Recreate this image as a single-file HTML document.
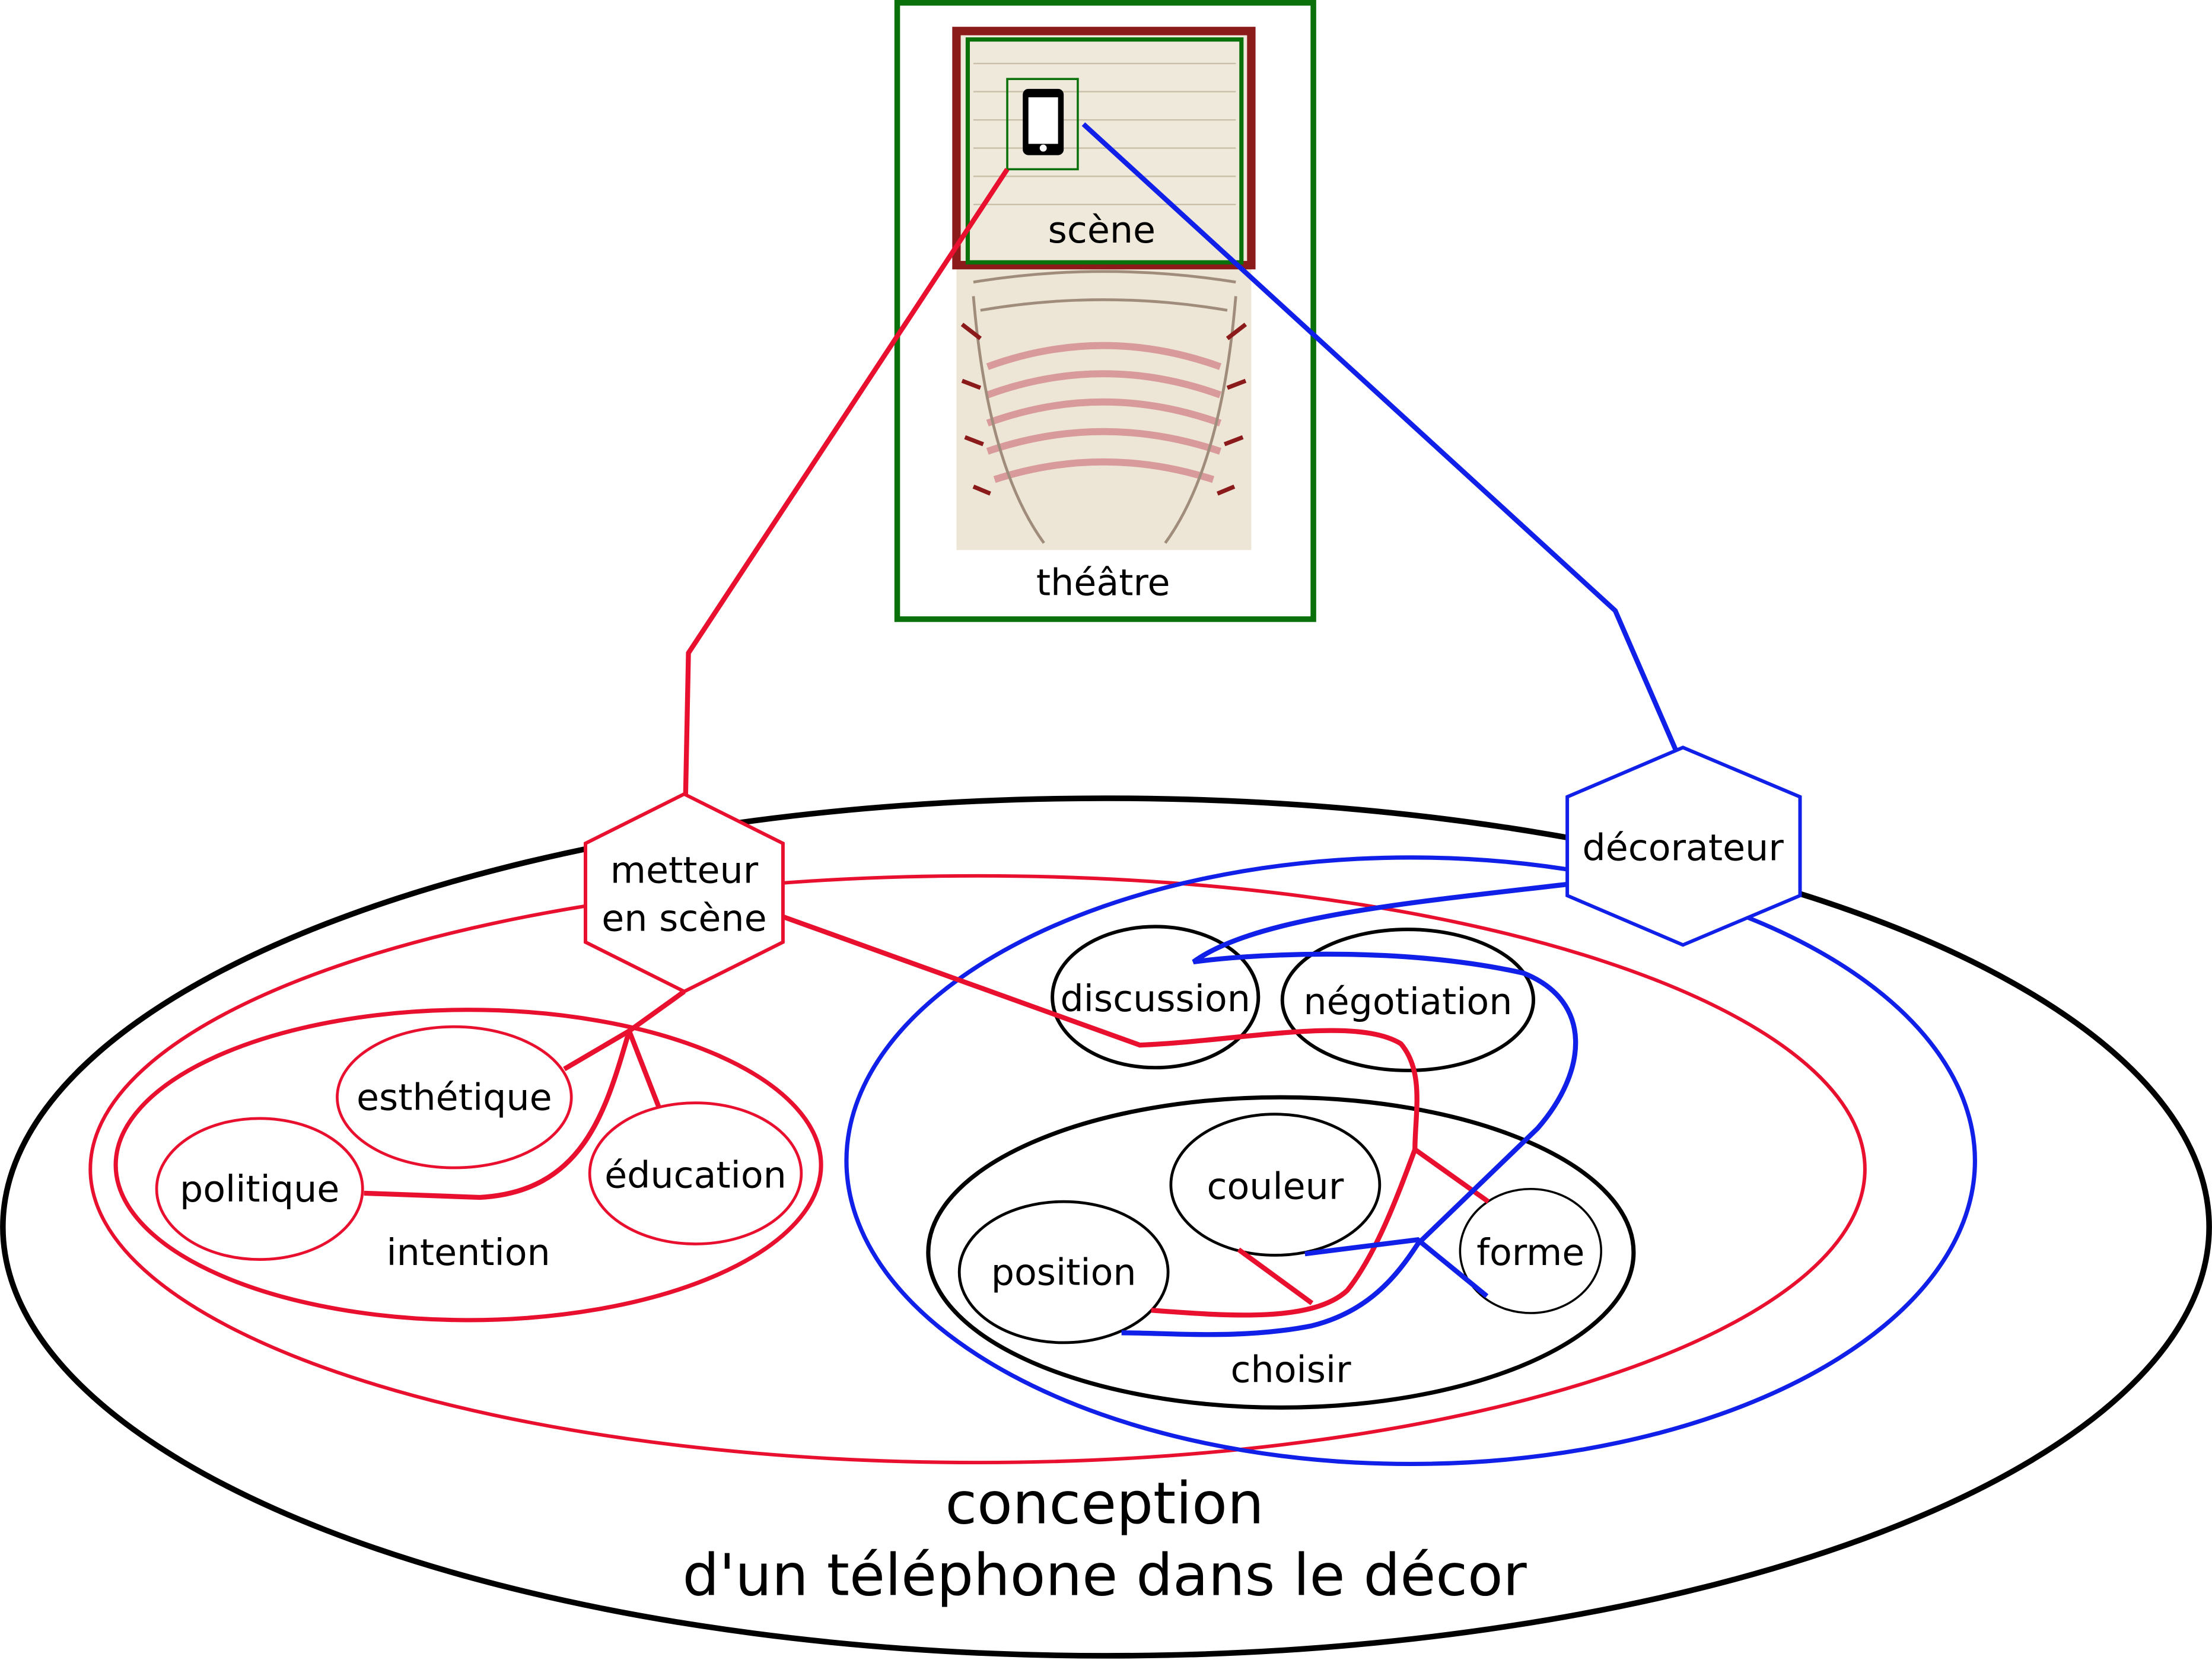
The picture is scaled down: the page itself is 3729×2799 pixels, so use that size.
<!DOCTYPE html>
<html><head><meta charset="utf-8"><style>
html,body{margin:0;padding:0;background:#fff}
svg{display:block}
text{font-family:"DejaVu Sans","Liberation Sans",sans-serif;fill:#000;text-anchor:middle}
</style></head><body>
<svg width="3729" height="2799" viewBox="0 0 1568 1177" xmlns="http://www.w3.org/2000/svg">
<rect width="1568" height="1177" fill="#fff"/>
<ellipse cx="784" cy="870" rx="782" ry="304" fill="none" stroke="#000" stroke-width="4"/>
<ellipse cx="693" cy="829" rx="629" ry="208" fill="none" stroke="#e8102e" stroke-width="2.5"/>
<ellipse cx="1000" cy="823" rx="400" ry="215" fill="none" stroke="#1020e8" stroke-width="3"/>
<ellipse cx="332" cy="826" rx="250" ry="110" fill="none" stroke="#e8102e" stroke-width="3"/>
<ellipse cx="322" cy="778" rx="83" ry="50" fill="#fff" stroke="#e8102e" stroke-width="2"/>
<ellipse cx="184" cy="843" rx="73" ry="50" fill="#fff" stroke="#e8102e" stroke-width="2"/>
<ellipse cx="493" cy="832" rx="75" ry="50" fill="#fff" stroke="#e8102e" stroke-width="2"/>
<text x="322" y="787" font-size="26">esthétique</text>
<text x="184" y="852" font-size="26">politique</text>
<text x="493" y="842" font-size="26">éducation</text>
<text x="332" y="897" font-size="26">intention</text>
<ellipse cx="819" cy="707" rx="73" ry="50" fill="#fff" stroke="#000" stroke-width="2.5"/>
<ellipse cx="998" cy="709" rx="89" ry="50" fill="#fff" stroke="#000" stroke-width="2.5"/>
<ellipse cx="908" cy="888" rx="250" ry="110" fill="none" stroke="#000" stroke-width="3"/>
<ellipse cx="904" cy="840" rx="74" ry="50" fill="#fff" stroke="#000" stroke-width="2"/>
<ellipse cx="754" cy="902" rx="74" ry="50" fill="#fff" stroke="#000" stroke-width="2"/>
<ellipse cx="1085" cy="887" rx="50" ry="44" fill="#fff" stroke="#000" stroke-width="1.5"/>
<text x="819" y="717" font-size="26">discussion</text>
<text x="998" y="719" font-size="26">négotiation</text>
<text x="904" y="850" font-size="26">couleur</text>
<text x="754" y="911" font-size="26">position</text>
<text x="1085" y="897" font-size="26">forme</text>
<text x="915" y="980" font-size="26">choisir</text>
<g fill="none" stroke="#e8102e" stroke-width="3.5">
<path d="M485 703 L446 731 L400 758 M446 731 L467 785"/>
<path d="M446 731 C430 785 415 845 340 849 L258 846"/>
<path d="M555 650 L808 741 C880 738 960 720 993 740 C1010 760 1003 790 1003 815 L1055 852"/>
<path d="M1003 815 C990 850 975 890 955 915 C930 938 870 933 816 929"/>
<path d="M878 886 L930 924"/>
</g>
<g fill="none" stroke="#1020e8" stroke-width="3.5">
<path d="M1111 627 C1000 640 890 650 846 682 C900 675 1000 672 1080 690 C1130 710 1125 760 1090 800 L1005 882 C990 905 970 930 930 940 C880 950 830 945 795 945"/>
<path d="M925 889 L1005 879 L1054 919"/>
</g>
<polygon points="485,563 555,598 555,668 485,703 415,668 415,598" fill="#fff" stroke="#e8102e" stroke-width="2.5"/>
<text x="485" y="626" font-size="26">metteur</text>
<text x="485" y="660" font-size="26">en scène</text>
<polygon points="1193,530 1276,565 1276,635 1193,670 1111,635 1111,565" fill="#fff" stroke="#1020e8" stroke-width="2.5"/>
<text x="1193" y="610" font-size="26">décorateur</text>
<!-- theatre -->
<rect x="636" y="2" width="295" height="437" fill="#fff" stroke="#0a700a" stroke-width="4"/>
<rect x="678" y="22" width="209" height="368" fill="#ede6d6"/>
<rect x="678" y="22" width="209" height="166" fill="#efe9dc" stroke="#8b1a1a" stroke-width="6"/>
<g stroke="#c9bfa8" stroke-width="1">
<line x1="690" y1="45" x2="876" y2="45"/><line x1="690" y1="65" x2="876" y2="65"/><line x1="690" y1="85" x2="876" y2="85"/><line x1="690" y1="105" x2="876" y2="105"/><line x1="690" y1="125" x2="876" y2="125"/><line x1="690" y1="145" x2="876" y2="145"/>
</g>
<g fill="none" stroke="#d89a9a" stroke-width="5">
<path d="M700 260 Q782 230 865 260"/><path d="M700 280 Q782 250 865 280"/><path d="M700 300 Q782 270 865 300"/><path d="M700 320 Q782 292 865 320"/><path d="M705 340 Q782 315 860 340"/>
</g>
<g fill="none" stroke="#a08c7a" stroke-width="2">
<path d="M690 200 Q782 185 876 200"/><path d="M695 220 Q782 205 870 220"/>
<path d="M690 210 Q700 330 740 385"/><path d="M876 210 Q866 330 826 385"/>
</g>
<g stroke="#8b1a1a" stroke-width="3">
<line x1="682" y1="230" x2="695" y2="240"/><line x1="682" y1="270" x2="695" y2="275"/><line x1="684" y1="310" x2="697" y2="315"/><line x1="690" y1="345" x2="702" y2="350"/>
<line x1="883" y1="230" x2="870" y2="240"/><line x1="883" y1="270" x2="870" y2="275"/><line x1="881" y1="310" x2="868" y2="315"/><line x1="875" y1="345" x2="863" y2="350"/>
</g>
<rect x="686" y="28" width="194" height="158" fill="none" stroke="#0a700a" stroke-width="3"/>
<rect x="714" y="56" width="50" height="64" fill="none" stroke="#0a700a" stroke-width="1.5"/>
<rect x="725" y="63" width="29" height="47" rx="4" fill="#000"/>
<rect x="729" y="69" width="21" height="33" fill="#fff"/>
<circle cx="739.5" cy="105" r="2.5" fill="#fff"/>
<text x="781" y="172" font-size="26">scène</text>
<text x="782" y="422" font-size="26">théâtre</text>
<!-- connectors over theatre -->
<path d="M714 120 L488 463 L486 563" fill="none" stroke="#e8102e" stroke-width="3.5"/>
<path d="M768 88 L1145 433 L1188 532" fill="none" stroke="#1020e8" stroke-width="3.5"/>
<text x="783" y="1080" font-size="41">conception</text>
<text x="783" y="1131" font-size="41">d'un téléphone dans le décor</text>
</svg>
</body></html>
